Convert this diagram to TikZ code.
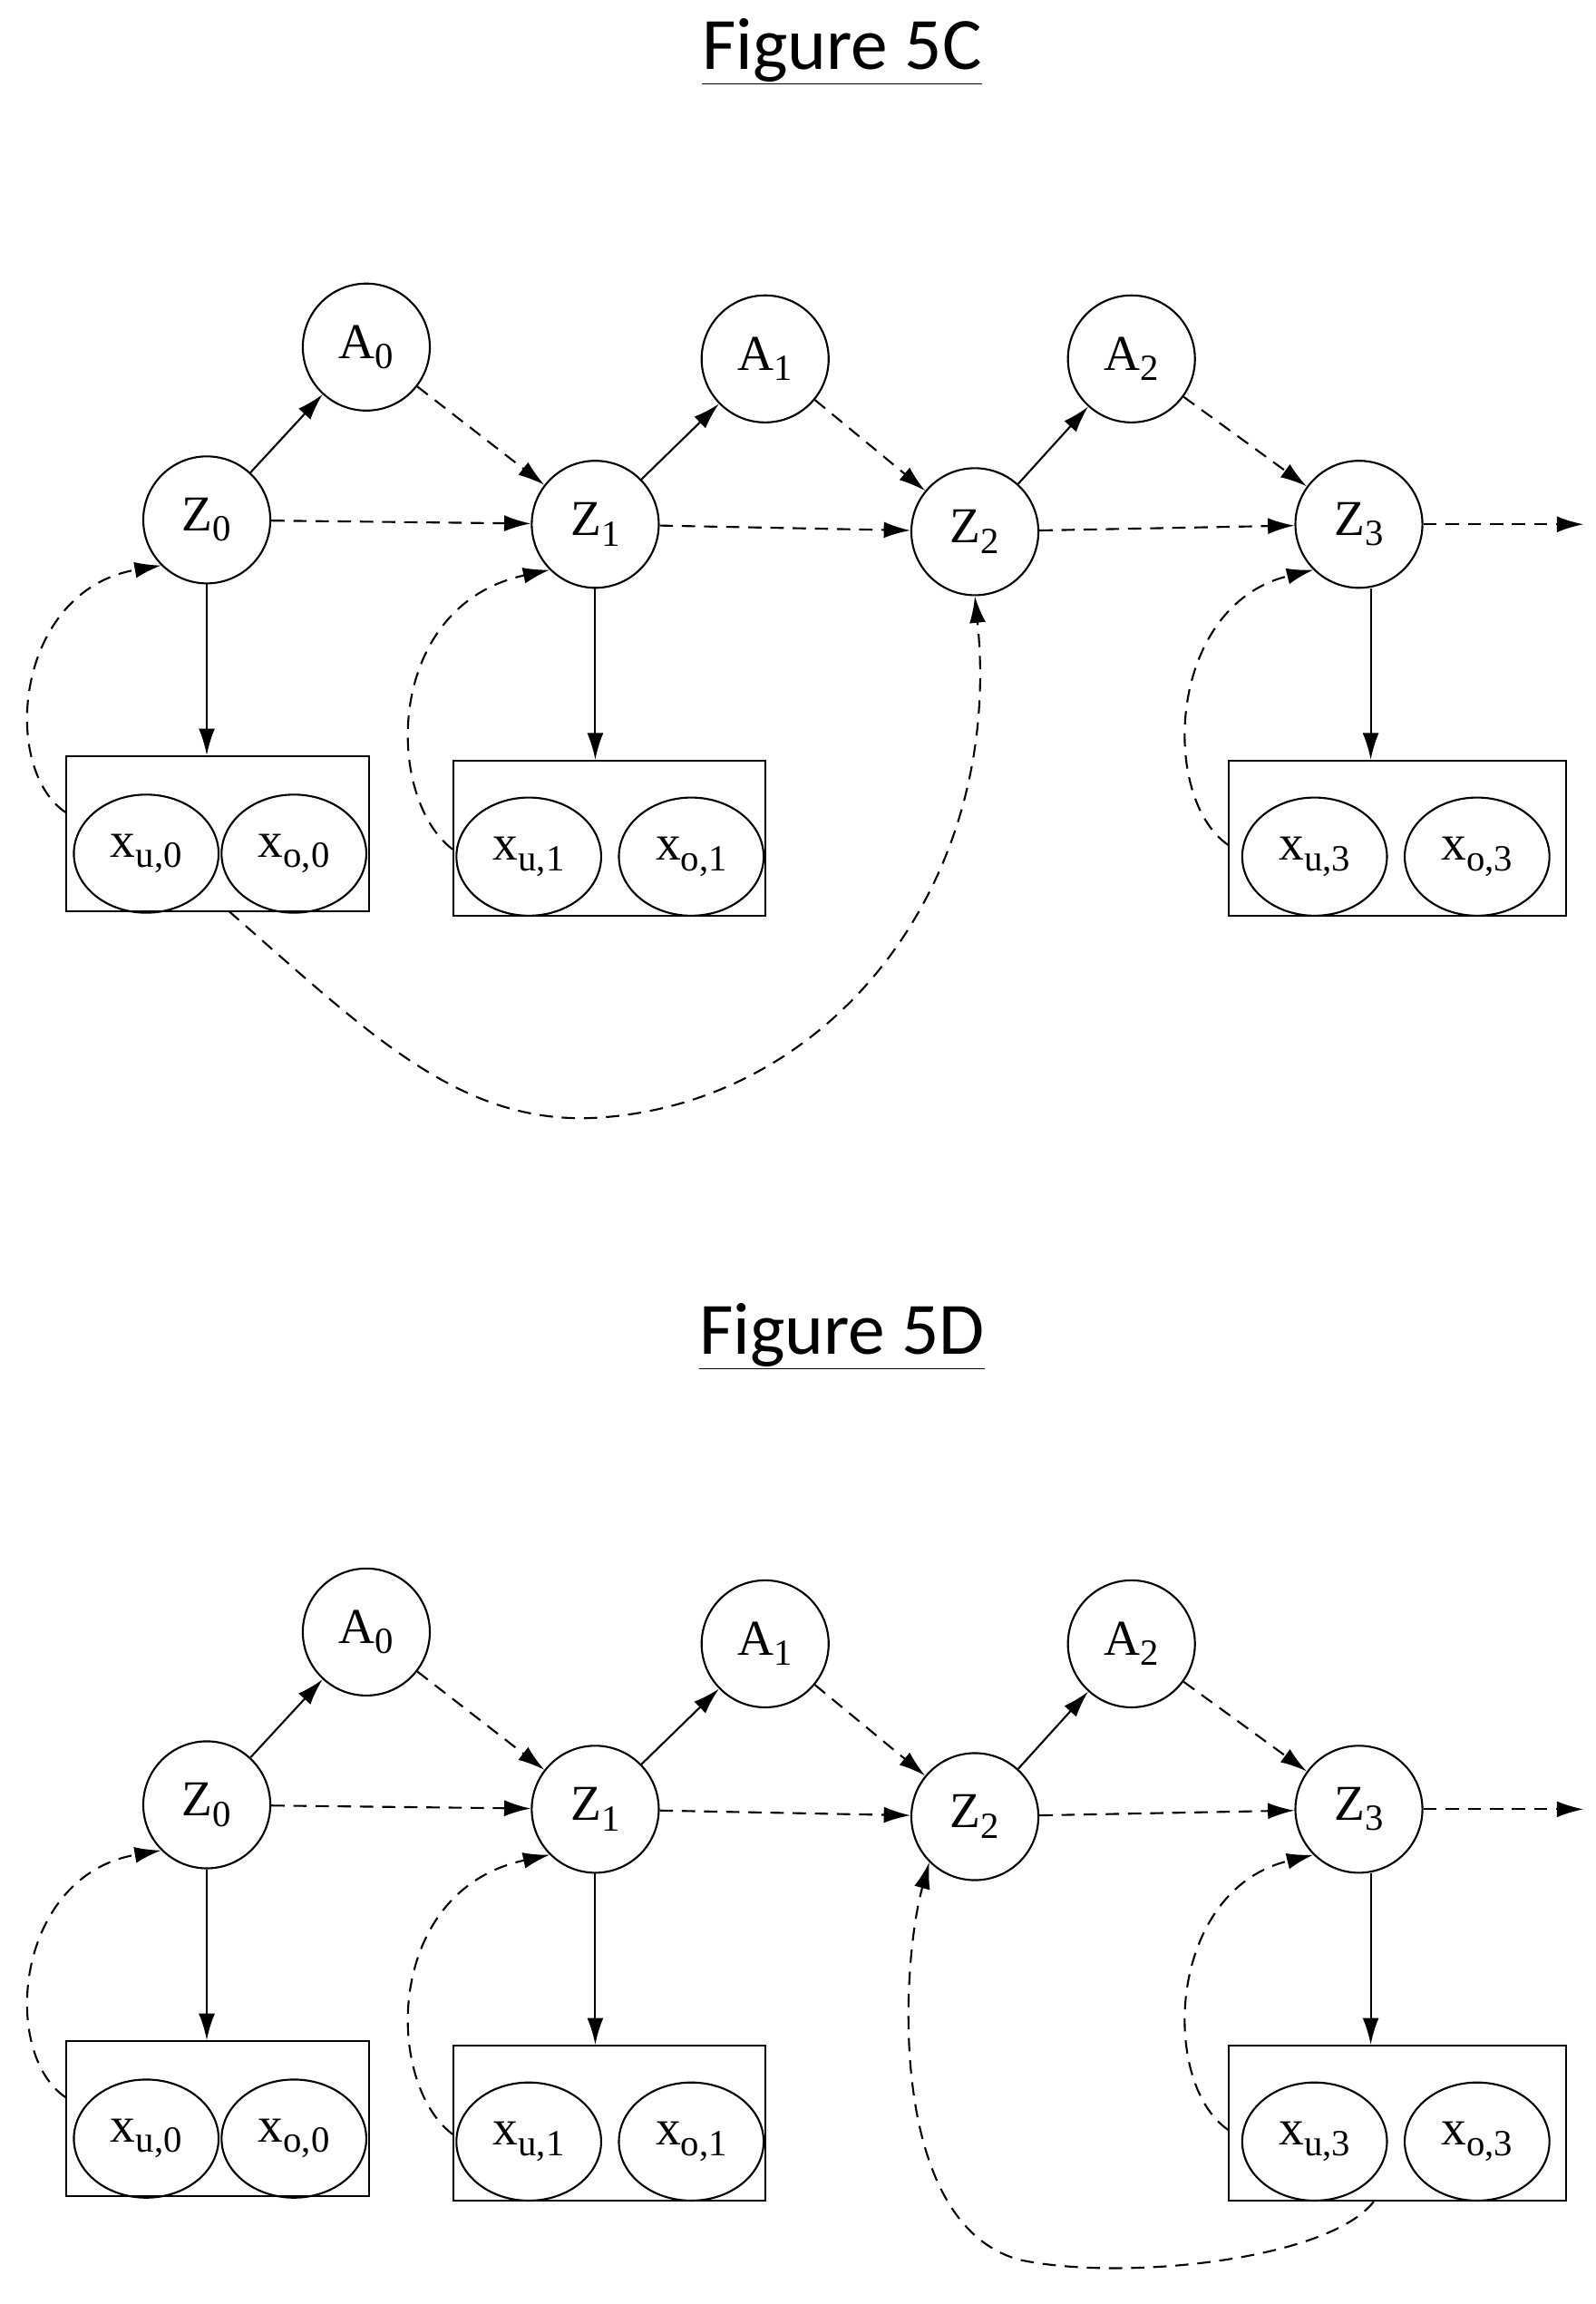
\documentclass[tikz,border=0pt]{standalone}
\usepackage{fontspec}
\setmainfont{Liberation Serif}
\newfontfamily\titlefont{Carlito}
\usetikzlibrary{arrows.meta,shapes.geometric}
\newcommand\sbx[1]{{\fontsize{25}{25}\selectfont\raisebox{-7pt}{#1}}}
\begin{document}
\begin{tikzpicture}[x=1pt,y=-1pt,
  circ/.style={draw,circle,line width=1.3pt,minimum size=86pt,inner sep=0pt,font=\fontsize{34}{34}\selectfont},
  ell/.style={draw,ellipse,line width=1.3pt,minimum width=98pt,minimum height=80pt,inner sep=0pt,font=\fontsize{34}{34}\selectfont},
  box/.style={draw,line width=1.3pt,inner sep=0pt},
  sol/.style={line width=1.3pt,-{Latex[length=18pt,width=11pt]}},
  dsh/.style={line width=1.3pt,dash pattern=on 9pt off 6pt,-{Latex[length=18pt,width=11pt]}},
  ttl/.style={font=\titlefont\fontsize{50}{50}\selectfont}]
\useasboundingbox (0,0) rectangle (1080,1560);
\newcommand\basefig[2]{%
\begin{scope}[shift={(0,#2)}]
\node[ttl] (#1t) at (570,35) {\underline{Figure 5#1}};
\node[circ] (#1A0) at (248,235) {A\sbx{0}};
\node[circ] (#1A1) at (518,243) {A\sbx{1}};
\node[circ] (#1A2) at (766,243) {A\sbx{2}};
\node[circ] (#1Z0) at (140,352) {Z\sbx{0}};
\node[circ] (#1Z1) at (403,355) {Z\sbx{1}};
\node[circ] (#1Z2) at (660,360) {Z\sbx{2}};
\node[circ] (#1Z3) at (920,355) {Z\sbx{3}};
\coordinate (#1end) at (1072,355);
\node[box,minimum width=205pt,minimum height=105pt] (#1B0) at (147.5,564.5) {};
\node[box,minimum width=211pt,minimum height=105pt] (#1B1) at (412.5,567.5) {};
\node[box,minimum width=228pt,minimum height=105pt] (#1B3) at (946,567.5) {};
\node[ell] (#1u0) at (99,578) {x\sbx{u,0}};
\node[ell] (#1o0) at (199,578) {x\sbx{o,0}};
\node[ell] (#1u1) at (358,580) {x\sbx{u,1}};
\node[ell] (#1o1) at (468,580) {x\sbx{o,1}};
\node[ell] (#1u3) at (890,580) {x\sbx{u,3}};
\node[ell] (#1o3) at (1000,580) {x\sbx{o,3}};
\draw[sol] (#1Z0) -- (#1A0);
\draw[sol] (#1Z1) -- (#1A1);
\draw[sol] (#1Z2) -- (#1A2);
\draw[dsh] (#1A0) -- (#1Z1);
\draw[dsh] (#1A1) -- (#1Z2);
\draw[dsh] (#1A2) -- (#1Z3);
\draw[dsh] (#1Z0) -- (#1Z1);
\draw[dsh] (#1Z1) -- (#1Z2);
\draw[dsh] (#1Z2) -- (#1Z3);
\draw[dsh] (#1Z3) -- (#1end);
\draw[sol] (#1Z0) -- (#1B0.north-|#1Z0);
\draw[sol] (#1Z1) -- (#1B1.north-|#1Z1);
\draw[sol] (#1Z3.south-|928,0) -- (#1B3.north-|928,0);
\draw[dsh] (#1B0.west|-0,550) .. controls (0,520) and (10,400) .. (#1Z0.south west);
\draw[dsh] (#1B1.west|-0,575) .. controls (260,540) and (260,410) .. (#1Z1.south west);
\draw[dsh] (#1B3.west|-0,572) .. controls (785,540) and (790,410) .. (#1Z3.south west);
\end{scope}}
\basefig{C}{0}
\basefig{D}{870}
\draw[dsh] (155,617) .. controls (250,700) and (310,760) .. (400,757)
  .. controls (560,750) and (680,600) .. (CZ2.south);
\draw[dsh] (DB3.south-|930,0) .. controls (900,1530) and (760,1545) .. (690,1530)
  .. controls (600,1505) and (610,1330) .. (DZ2.south west);
\end{tikzpicture}
\end{document}
